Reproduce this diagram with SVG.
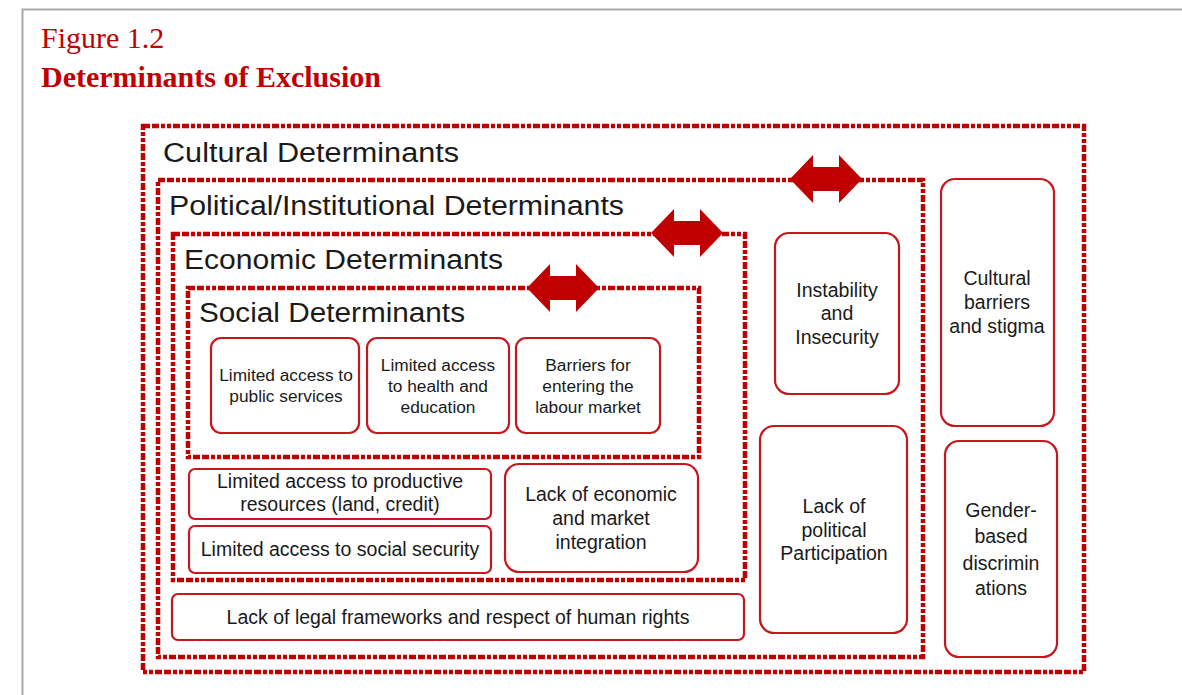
<svg xmlns="http://www.w3.org/2000/svg" width="1182" height="695" viewBox="0 0 1182 695">
<style>
.frame{fill:none;stroke:#c00000;stroke-width:4.5;stroke-dasharray:7 2 7 2 4 2 4 2}
.box{fill:#fff;stroke:#c8161d;stroke-width:2.2}
.hd{font-family:"Liberation Sans",Arial,sans-serif;font-size:27px;fill:#1a1a1a}
.t{font-family:"Liberation Sans",Arial,sans-serif;fill:#1a1a1a;text-anchor:middle}
.s15{font-size:17.3px}
.s17{font-size:19.5px}
.arrow{fill:#c00000}
.title{font-family:"Liberation Serif","Times New Roman",serif;font-size:30px;fill:#c00000}
</style>
<rect width="1182" height="695" fill="#fff"/>
<path d="M22.5 695 V9.5 H1182" fill="none" stroke="#aaa" stroke-width="2"/>
<text class="title" x="41" y="48">Figure 1.2</text>
<text class="title" x="41" y="87" font-weight="bold">Determinants of Exclusion</text>

<g id="cultural"><rect class="frame" x="143" y="126" width="941" height="546"/><text class="hd" x="163" y="162" textLength="296" lengthAdjust="spacingAndGlyphs">Cultural Determinants</text></g>
<g id="political"><rect class="frame" x="158" y="180" width="765" height="477"/><text class="hd" x="169" y="215" textLength="455" lengthAdjust="spacingAndGlyphs">Political/Institutional Determinants</text></g>
<g id="economic"><rect class="frame" x="173" y="234" width="572" height="346"/><text class="hd" x="184" y="269" textLength="319" lengthAdjust="spacingAndGlyphs">Economic Determinants</text></g>
<g id="social"><rect class="frame" x="188" y="288" width="511" height="169"/><text class="hd" x="199" y="322" textLength="266" lengthAdjust="spacingAndGlyphs">Social Determinants</text></g>

<g id="connectors">
<polygon class="arrow" points="790,179 813,155 813,167 839,167 839,155 862,179 839,203 839,191 813,191 813,203"/>
<polygon class="arrow" points="651,233 674,209 674,221 700,221 700,209 723,233 700,257 700,245 674,245 674,257"/>
<polygon class="arrow" points="527,288 550,264 550,276 576,276 576,264 599,288 576,312 576,300 550,300 550,312"/>
</g>

<g id="b1"><rect class="box" x="211" y="338" width="148" height="95" rx="10"/><text class="t s15" x="286" y="381">Limited access to</text><text class="t s15" x="286" y="402">public services</text></g>
<g id="b2"><rect class="box" x="367" y="338" width="142" height="95" rx="10"/><text class="t s15" x="438" y="371">Limited access</text><text class="t s15" x="438" y="392">to health and</text><text class="t s15" x="438" y="413">education</text></g>
<g id="b3"><rect class="box" x="516" y="338" width="144" height="95" rx="10"/><text class="t s15" x="588" y="371">Barriers for</text><text class="t s15" x="588" y="392">entering the</text><text class="t s15" x="588" y="413">labour market</text></g>
<g id="b4"><rect class="box" x="189" y="469" width="302" height="50" rx="6"/><text class="t s17" x="340" y="488">Limited access to productive</text><text class="t s17" x="340" y="511">resources (land, credit)</text></g>
<g id="b5"><rect class="box" x="189" y="526" width="302" height="47" rx="6"/><text class="t s17" x="340" y="556">Limited access to social security</text></g>
<g id="b6"><rect class="box" x="505" y="464" width="193" height="108" rx="14"/><text class="t s17" x="601" y="501">Lack of economic</text><text class="t s17" x="601" y="525">and market</text><text class="t s17" x="601" y="549">integration</text></g>
<g id="b7"><rect class="box" x="172" y="594" width="572" height="46" rx="6"/><text class="t s17" x="458" y="624">Lack of legal frameworks and respect of human rights</text></g>
<g id="b8"><rect class="box" x="775" y="233" width="124" height="161" rx="14"/><text class="t s17" x="837" y="297">Instability</text><text class="t s17" x="837" y="320">and</text><text class="t s17" x="837" y="344">Insecurity</text></g>
<g id="b9"><rect class="box" x="760" y="426" width="147" height="207" rx="14"/><text class="t s17" x="834" y="513">Lack of</text><text class="t s17" x="834" y="537">political</text><text class="t s17" x="834" y="560">Participation</text></g>
<g id="b10"><rect class="box" x="941" y="179" width="113" height="247" rx="14"/><text class="t s17" x="997" y="285">Cultural</text><text class="t s17" x="997" y="309">barriers</text><text class="t s17" x="997" y="333">and stigma</text></g>
<g id="b11"><rect class="box" x="945" y="441" width="112" height="216" rx="14"/><text class="t s17" x="1001" y="517">Gender-</text><text class="t s17" x="1001" y="543">based</text><text class="t s17" x="1001" y="570">discrimin</text><text class="t s17" x="1001" y="595">ations</text></g>
</svg>
